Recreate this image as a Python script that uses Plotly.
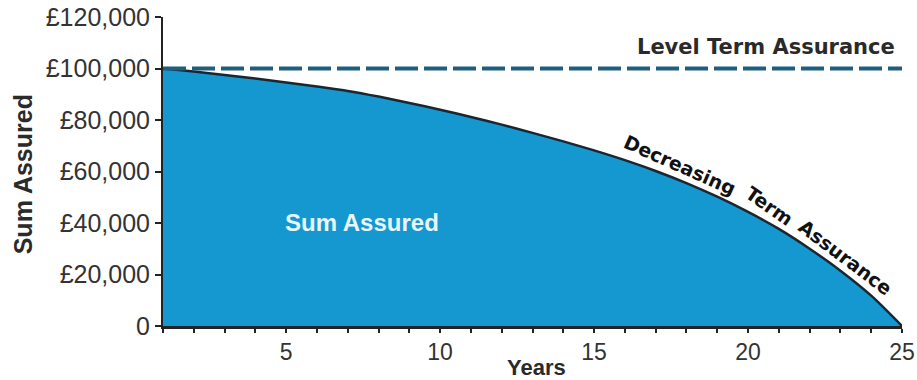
import plotly.graph_objects as go

# ---- data ----
years = list(range(1, 26))
decreasing_values = [100000, 98800, 97500, 96100, 94600, 93000, 91300, 89100, 86600, 84000,
                     81200, 78200, 75000, 71700, 68200, 64400, 60200, 55500, 50200, 44300,
                     37700, 30000, 21500, 11800, 0]
level_years = [1, 25]
level_values = [100000, 100000]

y_tickvals = [0, 20000, 40000, 60000, 80000, 100000, 120000]
y_ticktext = ["0", "£20,000", "£40,000", "£60,000", "£80,000", "£100,000", "£120,000"]
x_tickvals = years
x_ticktext = [str(y) if y % 5 == 0 else "" for y in years]

FILL = "#1597cf"
CURVE = "#1b2630"
LEVEL = "#1f5f7e"
AX = "#222222"
TXT = "#333333"
FONT = "Liberation Sans, Arial, sans-serif"
BOLD_WIDE = "DejaVu Sans, sans-serif"

fig = go.Figure()
fig.add_trace(go.Scatter(
    x=years, y=decreasing_values, mode="lines", fill="tozeroy",
    fillcolor=FILL, line=dict(color=CURVE, width=2.5, shape="spline", smoothing=0.8),
    hoverinfo="skip", showlegend=False))
fig.add_trace(go.Scatter(
    x=level_years, y=level_values, mode="lines",
    line=dict(color=LEVEL, width=4, dash="23px,6px"), hoverinfo="skip",
    showlegend=False))

fig.update_layout(
    width=917, height=380,
    margin=dict(l=163, r=15, t=17, b=54, autoexpand=False),
    paper_bgcolor="white", plot_bgcolor="white",
    font=dict(family=FONT, color=TXT),
    xaxis=dict(range=[1, 25], tickmode="array", tickvals=x_tickvals, ticktext=x_ticktext,
               automargin=False,
               showgrid=False, zeroline=False, showline=True, linecolor=AX, linewidth=2.5,
               ticks="outside", ticklen=4, tickwidth=2, tickcolor=AX,
               tickfont=dict(size=23, color=TXT, family=FONT)),
    yaxis=dict(range=[0, 120000], tickmode="array", tickvals=y_tickvals, ticktext=y_ticktext,
               automargin=False,
               showgrid=False, zeroline=False, showline=True, linecolor=AX, linewidth=2,
               ticks="outside", ticklen=6, tickwidth=2, tickcolor=AX,
               tickfont=dict(size=25, color=TXT, family=FONT)),
)

annotations = [
    dict(text="<b>Level Term Assurance</b>", x=0.9932, y=0.902, xanchor="right", yanchor="middle",
         font=dict(size=21, color="#2a2a2a", family=BOLD_WIDE)),
    dict(text="<b>Sum Assured</b>", x=0.2693, y=0.3356, xanchor="center", yanchor="middle",
         font=dict(size=24, color="#e8f6fc", family=FONT)),
    dict(text="<b>Sum Assured</b>", x=-0.1894, y=0.491, xanchor="center", yanchor="middle",
         textangle=-90, font=dict(size=25, color="#2a2a2a", family=FONT)),
    dict(text="<b>Years</b>", x=0.505, y=-0.134, xanchor="center", yanchor="middle",
         font=dict(size=22, color="#2a2a2a", family=FONT)),
    dict(text="<b>Decreasing</b>", x=0.6996, y=0.5217, xanchor="center", yanchor="middle",
         textangle=24, font=dict(size=19, color="#111111", family=BOLD_WIDE)),
    dict(text="<b>Term</b>", x=0.8207, y=0.3874, xanchor="center", yanchor="middle",
         textangle=35, font=dict(size=19, color="#111111", family=BOLD_WIDE)),
    dict(text="<b>Assurance</b>", x=0.9229, y=0.2223, xanchor="center", yanchor="middle",
         textangle=37, font=dict(size=19, color="#111111", family=BOLD_WIDE)),
]
for a in annotations:
    a.update(xref="paper", yref="paper", showarrow=False)
fig.update_layout(annotations=annotations)

fig.write_html("out.html", config={"displayModeBar": False},
               post_script="document.body.style.margin='0';")
